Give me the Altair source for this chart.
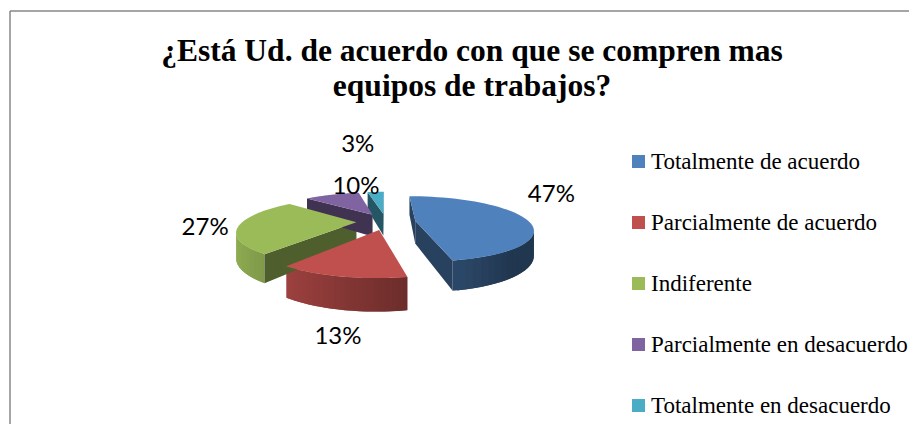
import altair as alt
import pandas as pd

categories = [
    "Totalmente de acuerdo",
    "Parcialmente de acuerdo",
    "Indiferente",
    "Parcialmente en desacuerdo",
    "Totalmente en desacuerdo",
]
percent = [47, 13, 27, 10, 3]
labels = ["47%", "13%", "27%", "10%", "3%"]
colors = ["#4F81BD", "#C0504D", "#9BBB59", "#8064A2", "#4BACC6"]

df = pd.DataFrame({"cat": categories, "value": percent, "label": labels,
                   "hex": colors, "order": list(range(len(categories)))})

# ---- layout / 3D look (pixels, relative to plot origin) ----
W, H = 901, 416
OX, OY = 8, 8
CX, CY = 386 - OX, 221.5 - OY
A, B, Q, E, D, N = 113.6, 31.0, 0.25, 0.26, 23.0, 48

xs = alt.Scale(domain=[0, W], nice=False, zero=False)
ys = alt.Scale(domain=[0, H], nice=False, zero=False, reverse=True)
col = alt.Scale(domain=categories, range=colors)

base = (
    alt.Chart(df)
    .transform_window(cum="sum(value)", sort=[alt.SortField("order")])
    .transform_joinaggregate(total="sum(value)")
    .transform_calculate(a0="2*PI*(datum.cum-datum.value)/datum.total")
    .transform_calculate(a1="2*PI*datum.cum/datum.total")
    .transform_calculate(am="(datum.a0+datum.a1)/2")
    .transform_calculate(ex=f"{E}*sin(datum.am)")
    .transform_calculate(ey=f"-{E}*cos(datum.am)")
)


def project(ch, depth_expr="0"):
    return (
        ch.transform_calculate(w=f"1-{Q}*datum.Y")
        .transform_calculate(px=f"{CX}+{A}*datum.X/datum.w")
        .transform_calculate(py=f"{CY}+({B}*datum.Y+{D}*({depth_expr}))/datum.w")
    )


X = alt.X("px:Q", scale=xs, axis=None)
Y = alt.Y("py:Q", scale=ys, axis=None)

# ---- side walls (outer strips + radial cut faces) ----
walls = (
    base.transform_calculate(fs=f"sequence(0,{N + 2})")
    .transform_flatten(["fs"], as_=["f"])
    .transform_calculate(vs="sequence(0,4)")
    .transform_flatten(["vs"], as_=["v"])
    .transform_calculate(edge="(datum.v==1||datum.v==2)?1:0")
    .transform_calculate(bot="datum.v>=2?1:0")
    .transform_calculate(angm=f"datum.a0+(datum.a1-datum.a0)*(datum.f+0.5)/{N}")
    .transform_calculate(
        ang=f"datum.f<{N} ? datum.a0+(datum.a1-datum.a0)*clamp(datum.f+(datum.edge==1?1.5:-0.5),0,{N})/{N} : (datum.f=={N} ? datum.a0 : datum.a1)")
    .transform_calculate(r=f"datum.f<{N} ? 1 : datum.edge")
    .transform_calculate(
        nx=f"datum.f<{N} ? sin(datum.angm) : (datum.f=={N} ? -cos(datum.a0) : cos(datum.a1))")
    .transform_calculate(
        ny=f"datum.f<{N} ? -cos(datum.angm) : (datum.f=={N} ? -sin(datum.a0) : sin(datum.a1))")
    .transform_calculate(
        qx=f"datum.f<{N} ? datum.ex+sin(datum.angm) : datum.ex+0.5*sin(datum.f=={N}?datum.a0:datum.a1)")
    .transform_calculate(
        qy=f"datum.f<{N} ? datum.ey-cos(datum.angm) : datum.ey-0.5*cos(datum.f=={N}?datum.a0:datum.a1)")
    .transform_calculate(vis=f"(0-datum.qx)*datum.nx+({1 / Q}-datum.qy)*datum.ny")
    .transform_filter("datum.vis>0")
    .transform_calculate(k=f"datum.f<{N} ? max(0.42, 0.62-0.33*sin(datum.angm)) : 0.5")
    .transform_calculate(
        fillc="'rgb('+round(rgb(datum.hex).r*datum.k)+','+round(rgb(datum.hex).g*datum.k)+','+round(rgb(datum.hex).b*datum.k)+')'")
    .transform_calculate(key="datum.cat+'_'+datum.f")
    .transform_calculate(X="datum.ex+datum.r*sin(datum.ang)")
    .transform_calculate(Y="datum.ey-datum.r*cos(datum.ang)")
)
walls = project(walls, "datum.bot").mark_line(filled=True, strokeWidth=0, interpolate="linear").encode(
    x=X, y=Y,
    color=alt.Color("fillc:N", scale=None),
    detail="key:N",
    order=alt.Order("v:Q"),
)

# ---- top faces ----
tops = (
    base.transform_calculate(pts=f"sequence(0,{N + 2})")
    .transform_flatten(["pts"], as_=["v"])
    .transform_calculate(r="datum.v==0?0:1")
    .transform_calculate(ang=f"datum.a0+(datum.a1-datum.a0)*max(datum.v-1,0)/{N}")
    .transform_calculate(X="datum.ex+datum.r*sin(datum.ang)")
    .transform_calculate(Y="datum.ey-datum.r*cos(datum.ang)")
)
tops = project(tops).mark_line(filled=True, strokeWidth=0).encode(
    x=X, y=Y,
    color=alt.Color(
        "cat:N", scale=col, sort=categories,
        legend=alt.Legend(
            orient="none", legendX=619, legendY=142, title=None,
            symbolType="square", symbolSize=169, symbolStrokeWidth=0,
            labelFont="Liberation Serif", labelFontSize=23, labelColor="black",
            labelOffset=1, rowPadding=37, padding=0, labelLimit=400,
        ),
    ),
    detail="cat:N",
    order=alt.Order("v:Q"),
)

# ---- percentage labels ----
lab = (
    base.transform_calculate(X="datum.ex+sin(datum.am)")
    .transform_calculate(Y="datum.ey-cos(datum.am)")
)
lab = project(lab)
nudge = {
    categories[0]: (27, -23),
    categories[1]: (-3, 60),
    categories[2]: (-34, 3),
    categories[3]: (24, -8),
    categories[4]: (-18, -47),
}
texts = [
    lab.transform_filter(alt.datum.cat == c)
    .mark_text(dx=dx, dy=dy, font="Lato", fontSize=24, color="black",
               align="center", baseline="middle")
    .encode(x=X, y=Y, text="label:N")
    for c, (dx, dy) in nudge.items()
]

# ---- chart frame (left and top edges visible) ----
frame_df = pd.DataFrame({"k": [0]})
left_edge = alt.Chart(frame_df).mark_rule(color="#878787", strokeWidth=1.5).encode(
    x=alt.value(2), y=alt.value(3), y2=alt.value(H))
top_edge = alt.Chart(frame_df).mark_rule(color="#878787", strokeWidth=1.5).encode(
    x=alt.value(2), x2=alt.value(W), y=alt.value(3))

chart = (
    alt.layer(left_edge, top_edge, walls, tops, *texts)
    .properties(
        width=W, height=H,
        padding=0,
        autosize=alt.AutoSizeParams(type="none"),
        title=alt.Title(
            text=["¿Está Ud. de acuerdo con que se compren mas", "equipos de trabajos?"],
            font="Liberation Serif", fontSize=31.5, fontWeight="bold", color="black",
            anchor="middle", dx=13.5, offset=-119, baseline="alphabetic", lineHeight=35,
        ),
    )
    .configure_view(stroke=None)
)

chart.save("out.html", embed_options={"renderer": "svg", "actions": False})
